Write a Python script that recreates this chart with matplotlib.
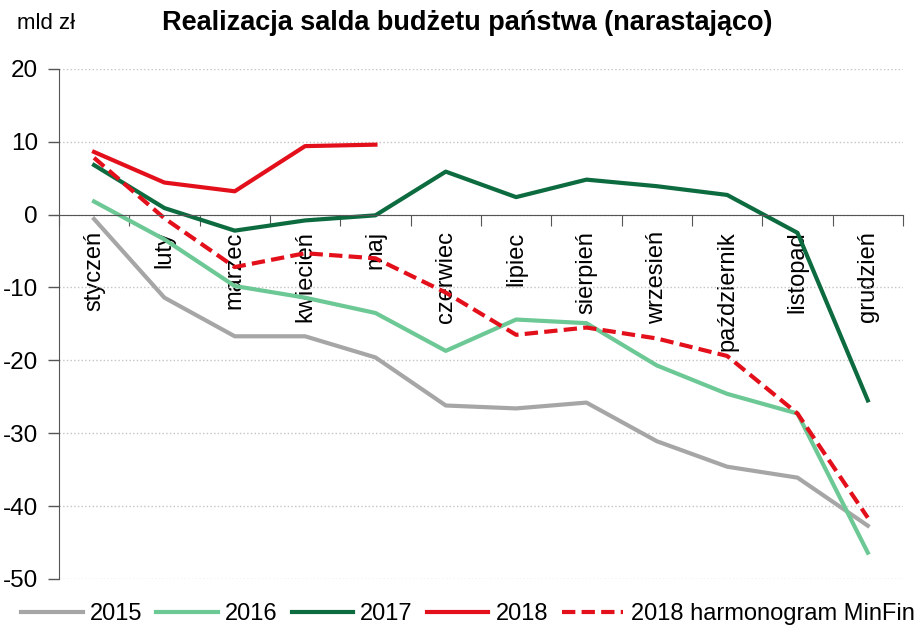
import numpy as np
import matplotlib.pyplot as plt
from matplotlib.ticker import FixedLocator

plt.rcParams['font.family'] = ['Liberation Sans Narrow', 'Liberation Sans', 'DejaVu Sans']
plt.rcParams['axes.unicode_minus'] = False

months = ['styczeń', 'luty', 'marzec', 'kwiecień', 'maj', 'czerwiec', 'lipiec',
          'sierpień', 'wrzesień', 'październik', 'listopad', 'grudzień']
s2015 = [-0.6, -11.4, -16.7, -16.7, -19.6, -26.2, -26.6, -25.8, -31.1, -34.6, -36.1, -42.7]
s2016 = [1.8, -3.4, -9.8, -11.4, -13.5, -18.7, -14.4, -14.9, -20.7, -24.6, -27.3, -46.4]
s2017 = [6.8, 0.9, -2.2, -0.8, -0.1, 5.9, 2.4, 4.8, 3.9, 2.7, -2.5, -25.5]
s2018 = [8.6, 4.4, 3.2, 9.4, 9.6]
s2018_plan = [7.8, -0.5, -7.2, -5.3, -6.0, -10.7, -16.5, -15.5, -17.0, -19.4, -27.3, -41.6]

fig = plt.figure(figsize=(9.2, 6.32), dpi=100, facecolor='w')
ax = fig.add_axes([0.064, 0.084, 0.9175, 0.807])

x = np.arange(len(months))
ax.plot(x, s2015, color='#a6a6a6', lw=3, label='2015')
ax.plot(x, s2016, color='#6cc894', lw=3, label='2016')
ax.plot(x, s2017, color='#0d6b40', lw=3, label='2017')
ax.plot(x[:len(s2018)], s2018, color='#e3101b', lw=3, label='2018')
ax.plot(x, s2018_plan, color='#e3101b', lw=3, ls=(0, (3.2, 1.5)), label='2018 harmonogram MinFin')

ax.set_xlim(-0.5, 11.5)
ax.set_ylim(-50, 20)
ax.set_yticks(range(-50, 21, 10))
ax.tick_params(axis='y', labelsize=17.5, length=8, width=1, color='#555555', pad=7)
ax.yaxis.grid(True, color='#c4c4c4', ls=':', lw=1)
ax.set_axisbelow(True)

ax.spines['top'].set_visible(False)
ax.spines['right'].set_visible(False)
ax.spines['left'].set_color('#555555')
ax.spines['bottom'].set_color('#555555')
ax.spines['bottom'].set_position(('data', 0))

# ticks between months, labels at month centres
ax.xaxis.set_major_locator(FixedLocator(np.arange(-0.5, 12, 1)))
ax.xaxis.set_major_formatter(plt.NullFormatter())
ax.xaxis.set_minor_locator(FixedLocator(x))
ax.set_xticklabels(months, minor=True, rotation=90, fontsize=17, va='top')
ax.tick_params(axis='x', which='major', length=8, direction='out', color='#555555')
ax.tick_params(axis='x', which='minor', length=0, pad=12)

fig.text(0.018, 0.963, 'mld zł', fontsize=16, va='center', ha='left')
fig.text(0.508, 0.963, 'Realizacja salda budżetu państwa (narastająco)',
         fontsize=19.5, fontweight='bold', va='center', ha='center',
         family=['Liberation Sans', 'DejaVu Sans'])

fig.legend(loc='center left', bbox_to_anchor=(0.0, 0.028), ncol=5, frameon=False,
           fontsize=17, handlelength=2.6, handletextpad=0.3, columnspacing=0.6)

plt.savefig('out.png', dpi=100)
